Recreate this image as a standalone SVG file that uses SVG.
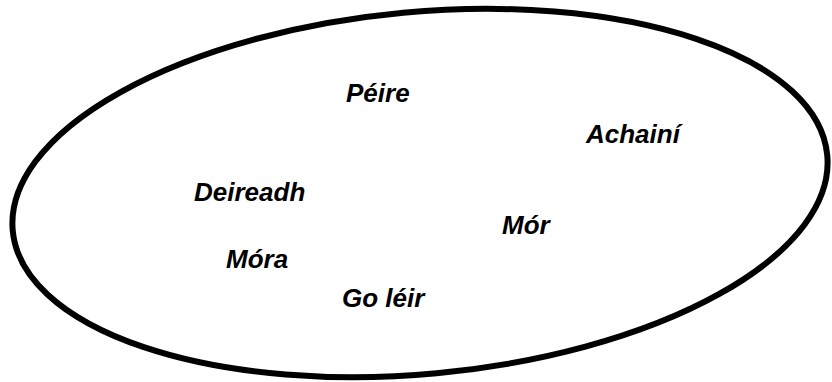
<svg xmlns="http://www.w3.org/2000/svg" width="832" height="382" viewBox="0 0 832 382">
<style>
.lbl{font-family:"Liberation Sans",Arial,sans-serif;font-weight:bold;font-style:italic;font-size:26px;fill:#000}
</style>
<rect width="832" height="382" fill="#fff"/>
<g id="set">
<ellipse cx="420" cy="193" rx="409" ry="181" transform="rotate(-5.3 420 193)" fill="none" stroke="#000" stroke-width="6"/>
</g>
<g id="peire"><text class="lbl" x="346" y="102">Péire</text></g>
<g id="achaini"><text class="lbl" x="586" y="143">Achainí</text></g>
<g id="deireadh"><text class="lbl" x="194" y="201">Deireadh</text></g>
<g id="mor"><text class="lbl" x="502" y="234">Mór</text></g>
<g id="mora"><text class="lbl" x="226" y="268">Móra</text></g>
<g id="goleir"><text class="lbl" x="342" y="307">Go léir</text></g>
<g id="connectors"></g>
</svg>
